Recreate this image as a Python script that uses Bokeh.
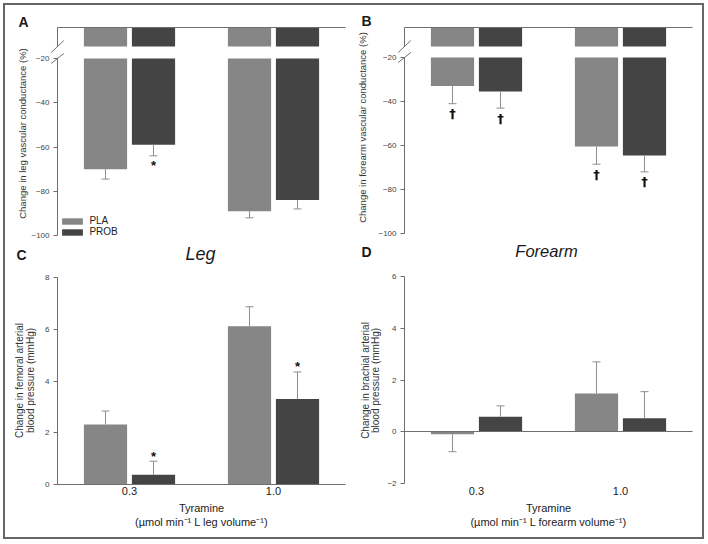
import numpy as np
from bokeh.plotting import figure
from bokeh.models import (ColumnDataSource, Range1d, FixedTicker, Label, Whisker,
                          TeeHead, Legend, LegendItem, Arrow, LinearAxis)
from bokeh.layouts import row, column
from bokeh.core.properties import value
from bokeh.embed import file_html
from bokeh.resources import INLINE

# ---------------- data ----------------
doses = ["0.3", "1.0"]
groups = ["PLA", "PROB"]

leg_vc_pla = [-70.0, -89.0]
leg_vc_pla_err = [4.5, 3.0]
leg_vc_prob = [-59.0, -84.0]
leg_vc_prob_err = [5.0, 4.0]
leg_vc_pla_mark = ["", ""]
leg_vc_prob_mark = ["*", ""]

fore_vc_pla = [-33.0, -60.5]
fore_vc_pla_err = [8.0, 8.0]
fore_vc_prob = [-35.5, -64.5]
fore_vc_prob_err = [7.5, 7.5]
fore_vc_pla_mark = ["\u2020", "\u2020"]
fore_vc_prob_mark = ["\u2020", "\u2020"]

fem_bp_pla = [2.32, 6.12]
fem_bp_pla_err = [0.52, 0.75]
fem_bp_prob = [0.38, 3.30]
fem_bp_prob_err = [0.52, 1.05]
fem_bp_pla_mark = ["", ""]
fem_bp_prob_mark = ["*", "*"]

brach_bp_pla = [-0.10, 1.48]
brach_bp_pla_err = [0.67, 1.22]
brach_bp_prob = [0.58, 0.52]
brach_bp_prob_err = [0.42, 1.03]
brach_bp_pla_mark = ["", ""]
brach_bp_prob_mark = ["", ""]

vc_upper = (-8.5, 0)      # upper segment of the broken axis
vc_lower = (-100, -20)    # lower segment of the broken axis
vc_ticks = [-100, -80, -60, -40, -20]
fem_ticks = [0, 2, 4, 6, 8]
brach_ticks = [-2, 0, 2, 4, 6]

# ---------------- style / geometry ----------------
FONT = "Liberation Sans"
AX = "#6e6e6e"
ERR = "#8e8e8e"
TXT = "#333333"
colors = ["#868686", "#444444"]

FRAME_W = 288              # width of the plotting area of a panel
N_SLOTS = 3 * len(doses)   # bar slots on the x scale
KX = FRAME_W / N_SLOTS     # px per x unit


def make_source(j, vals, errs, marks):
    xs = [i * 3 + 1 + j for i in range(len(doses))]
    far = [v + (e if v >= 0 else -e) for v, e in zip(vals, errs)]
    ubot = [max(v, vc_upper[0]) for v in vals]
    return ColumnDataSource(dict(x=xs, val=vals, far=far, ubot=ubot, mark=marks, dose=doses))


def base_fig(pw, ph, axis_px, yr):
    xr = Range1d(-axis_px / KX, N_SLOTS + (pw - axis_px - FRAME_W) / KX)
    p = figure(width=pw, height=ph, x_range=xr, y_range=yr,
               output_backend="svg", toolbar_location=None, min_border=0,
               x_axis_location=None, y_axis_location=None)
    p.outline_line_color = None
    p.background_fill_color = None
    p.border_fill_color = None
    p.grid.visible = False
    return p


def yaxis(p, ticks, bounds, range_name="default"):
    ax = LinearAxis(fixed_location=0, bounds=bounds, ticker=FixedTicker(ticks=ticks),
                    y_range_name=range_name)
    ax.axis_line_color = AX
    ax.major_tick_line_color = AX
    ax.major_tick_out = 4
    ax.major_tick_in = 0
    ax.minor_tick_line_color = None
    ax.major_label_text_font = FONT
    ax.major_label_text_font_size = "8px"
    ax.major_label_text_color = "#444444"
    ax.major_label_standoff = 4
    p.add_layout(ax, "left")
    return ax


def hline_axis(p, loc):
    ax = LinearAxis(fixed_location=loc, bounds=(0, N_SLOTS), ticker=FixedTicker(ticks=[]))
    ax.axis_line_color = AX
    ax.major_tick_line_color = None
    ax.minor_tick_line_color = None
    p.add_layout(ax, "below")
    return ax


def cat_axis(p, loc, title, line, standoff):
    ax = LinearAxis(fixed_location=loc, bounds=(0, N_SLOTS),
                    ticker=FixedTicker(ticks=[i * 3 + 1.5 for i in range(len(doses))]))
    ax.major_label_overrides = {i * 3 + 1.5: d for i, d in enumerate(doses)}
    ax.axis_line_color = AX if line else None
    ax.major_tick_line_color = None
    ax.major_tick_out = 0
    ax.major_tick_in = 0
    ax.minor_tick_line_color = None
    ax.major_label_text_font = FONT
    ax.major_label_text_font_size = "11px"
    ax.major_label_text_color = "#222222"
    ax.major_label_standoff = standoff
    ax.axis_label = title
    ax.axis_label_text_font = FONT
    ax.axis_label_text_font_size = "11px"
    ax.axis_label_text_font_style = "normal"
    ax.axis_label_text_color = "#222222"
    ax.axis_label_standoff = 4
    p.add_layout(ax, "below")


def add_err(p, sources, mark_font, mark_size, mark_style, y_off, range_name="default"):
    for src in sources:
        p.add_layout(Whisker(source=src, base="x", upper="far", lower="val",
                             dimension="height", line_color=ERR, line_width=1,
                             upper_head=TeeHead(size=8, line_color=ERR, line_width=1),
                             lower_head=None, level="overlay", y_range_name=range_name))
        p.text(x="x", y="far", text="mark", source=src, text_font=value(mark_font),
               text_font_size=mark_size, text_font_style=mark_style,
               text_align="center", text_baseline="alphabetic",
               y_offset=y_off, text_color="#111111", y_range_name=range_name)


def lab(p, x, y, text, size, style="normal", angle=0.0, align="center",
        baseline="middle", color="#1a1a1a"):
    p.add_layout(Label(x=x, y=y, x_units="screen", y_units="screen", text=text,
                       text_font=FONT, text_font_size=size, text_font_style=style,
                       angle=angle, text_align=align, text_baseline=baseline,
                       text_color=color))


def broken_panel(pw, axis_px, lo_top_px, lo_bot_px, gap_px, pla, pla_err, prob, prob_err,
                 pla_mark, prob_mark, mark_font, mark_size, mark_style, y_off, ph=272):
    k = (lo_bot_px - lo_top_px) / (vc_lower[1] - vc_lower[0])
    up_bot_px = lo_top_px - gap_px
    up_top_px = up_bot_px - (vc_upper[1] - vc_upper[0]) * k
    upper = Range1d(vc_upper[1] - (ph - up_top_px) / k, vc_upper[1] + up_top_px / k)
    lower = Range1d(vc_lower[0] - (ph - lo_bot_px) / k, vc_lower[1] + lo_top_px / k)
    p = base_fig(pw, ph, axis_px, upper)
    p.extra_y_ranges = {"lower": lower}

    srcs = [make_source(0, pla, pla_err, pla_mark), make_source(1, prob, prob_err, prob_mark)]
    lower_rs = []
    for j, src in enumerate(srcs):
        p.vbar(x="x", top=vc_upper[1], bottom="ubot", width=0.9, source=src,
               fill_color=colors[j], line_color=None)
        lower_rs.append(p.vbar(x="x", top=vc_lower[1], bottom="val", width=0.9, source=src,
                               fill_color=colors[j], line_color=None, y_range_name="lower"))
    yaxis(p, [], vc_upper)
    yaxis(p, vc_ticks, vc_lower, "lower")
    zero = LinearAxis(fixed_location=vc_upper[1], bounds=(0, N_SLOTS), ticker=FixedTicker(ticks=[]))
    zero.axis_line_color = AX
    zero.major_tick_line_color = None
    zero.minor_tick_line_color = None
    p.add_layout(zero, "above")
    add_err(p, srcs, mark_font, mark_size, mark_style, y_off, "lower")
    # axis break marks
    dx = 6.3 / KX
    p.add_layout(Arrow(end=None, x_start=-dx, y_start=vc_upper[0] - 6 / k, x_end=dx,
                       y_end=vc_upper[0] + 6 / k, line_color=AX, line_width=1))
    p.add_layout(Arrow(end=None, x_start=-dx, y_start=vc_lower[1] - 5 / k, x_end=dx,
                       y_end=vc_lower[1] + 5 / k, line_color=AX, line_width=1,
                       y_range_name="lower"))
    return p, lower_rs


# ---- Panel A ----
a, a_rs = broken_panel(354, 57, 58, 235, 12, leg_vc_pla, leg_vc_pla_err, leg_vc_prob,
                       leg_vc_prob_err, leg_vc_pla_mark, leg_vc_prob_mark,
                       FONT, "13px", "bold", 10)
legend = Legend(items=[LegendItem(label=groups[j], renderers=[a_rs[j]]) for j in range(2)],
                location=(59.4, 35), orientation="vertical", glyph_width=26, glyph_height=8,
                label_standoff=4, label_text_font=FONT, label_text_font_size="10px",
                label_text_color="#222222", label_height=8, spacing=0, padding=0, margin=0,
                border_line_color=None, background_fill_alpha=0)
a.add_layout(legend)
lab(a, 200, 19, "Leg", "18px", style="italic", baseline="alphabetic")
lab(a, 23, 250.5, "A", "14px", style="bold")
lab(a, 22, 139, "Change in leg vascular conductance (%)", "9.5px", angle=np.pi / 2, color=TXT)
lab(a, 21, 18, "C", "14px", style="bold")

# ---- Panel B ----
b, b_rs = broken_panel(353, 50, 57, 233, 11, fore_vc_pla, fore_vc_pla_err, fore_vc_prob,
                       fore_vc_prob_err, fore_vc_pla_mark, fore_vc_prob_mark,
                       "DejaVu Sans", "13px", "bold", 10)
lab(b, 192, 22, "Forearm", "16.5px", style="italic", baseline="alphabetic")
lab(b, 12, 252, "B", "14px", style="bold")
lab(b, 8, 145, "Change in forearm vascular conductance (%)", "9.5px", angle=np.pi / 2, color=TXT)
lab(b, 12, 21, "D", "14px", style="bold")

# ---- Panel C ----
kc = 207 / (fem_ticks[-1] - fem_ticks[0])
c = base_fig(354, 270, 57, Range1d(fem_ticks[0] - 58 / kc, fem_ticks[-1] + 5 / kc))
c_src = [make_source(0, fem_bp_pla, fem_bp_pla_err, fem_bp_pla_mark),
         make_source(1, fem_bp_prob, fem_bp_prob_err, fem_bp_prob_mark)]
for j, src in enumerate(c_src):
    c.vbar(x="x", top=0, bottom="val", width=0.9, source=src,
           fill_color=colors[j], line_color=None)
yaxis(c, fem_ticks, (fem_ticks[0], fem_ticks[-1]))
cat_axis(c, 0, "Tyramine\n(\u00b5mol min\u207b\u00b9 L leg volume\u207b\u00b9)", True, 2)
add_err(c, c_src, FONT, "13px", "bold", -5)
lab(c, 19, 162, "Change in femoral arterial", "10px", angle=np.pi / 2, color=TXT)
lab(c, 29.5, 162, "blood pressure (mmHg)", "10px", angle=np.pi / 2, color=TXT)

# ---- Panel D ----
kd = 207 / (brach_ticks[-1] - brach_ticks[0])
d = base_fig(353, 270, 50, Range1d(brach_ticks[0] - 59 / kd, brach_ticks[-1] + 4 / kd))
d_src = [make_source(0, brach_bp_pla, brach_bp_pla_err, brach_bp_pla_mark),
         make_source(1, brach_bp_prob, brach_bp_prob_err, brach_bp_prob_mark)]
for j, src in enumerate(d_src):
    d.vbar(x="x", top=0, bottom="val", width=0.9, source=src,
           fill_color=colors[j], line_color=None)
yaxis(d, brach_ticks, (brach_ticks[0], brach_ticks[-1]))
hline_axis(d, 0)
cat_axis(d, brach_ticks[0], "Tyramine\n(\u00b5mol min\u207b\u00b9 L forearm volume\u207b\u00b9)", False, 3)
add_err(d, d_src, FONT, "13px", "bold", -5)
lab(d, 11, 162, "Change in brachial arterial", "10px", angle=np.pi / 2, color=TXT)
lab(d, 20.5, 162, "blood pressure (mmHg)", "10px", angle=np.pi / 2, color=TXT)

root = column(row(a, b), row(c, d),
              styles={"outline": "2px solid #666666", "outline-offset": "-5px"})

open("out.html", "w").write(file_html(root, INLINE))
